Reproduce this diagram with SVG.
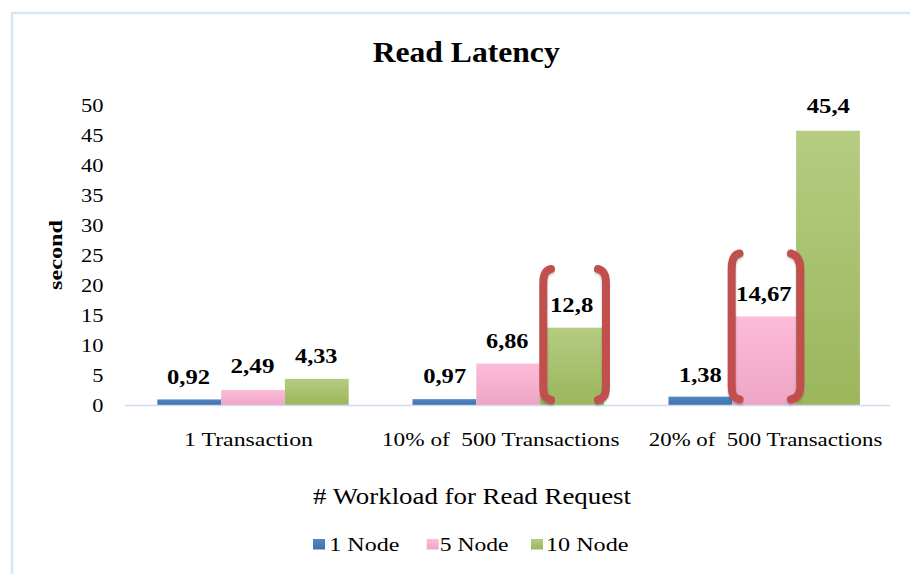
<svg xmlns="http://www.w3.org/2000/svg" width="910" height="574" viewBox="0 0 910 574" font-family="'Liberation Serif', 'Times New Roman', 'DejaVu Serif', serif">
  <defs>
    <linearGradient id="gBlue" x1="0" y1="0" x2="0" y2="1">
      <stop offset="0" stop-color="#5186c4"/>
      <stop offset="1" stop-color="#3f70ad"/>
    </linearGradient>
    <linearGradient id="gPink" x1="0" y1="0" x2="0" y2="1">
      <stop offset="0" stop-color="#fdbcd9"/>
      <stop offset="1" stop-color="#eea5c5"/>
    </linearGradient>
    <linearGradient id="gGreen" x1="0" y1="0" x2="0" y2="1">
      <stop offset="0" stop-color="#b5cc82"/>
      <stop offset="1" stop-color="#9bb65b"/>
    </linearGradient>
    <filter id="soft" x="-50%" y="-10%" width="200%" height="120%">
      <feDropShadow dx="0" dy="1.5" stdDeviation="1.2" flood-color="#000" flood-opacity="0.25"/>
    </filter>
  </defs>
  <style>
    text { font-family: 'Liberation Serif', 'Times New Roman', 'DejaVu Serif', serif; fill: #000; }
    .title { font-size: 30px; font-weight: bold; }
    .tick { font-size: 18px; }
    .val { font-size: 20px; font-weight: bold; }
    .cat { font-size: 19.5px; }
    .axt { font-size: 24px; }
    .leg { font-size: 18px; }
    .ylab { font-size: 19px; font-weight: bold; }
    .frame { fill: none; stroke: #d8e5f5; stroke-width: 2.5; }
    .axis { stroke: #cfdcee; stroke-width: 1.6; }
    .bracket { fill: none; stroke: #c0504d; stroke-width: 8; stroke-linecap: round; filter: url(#soft); }
  </style>

  <rect width="910" height="574" fill="#ffffff"/>

  <!-- chart frame (top and left edges) -->
  <path class="frame" d="M12,574 L12,13 L910,13"/>

  <!-- title -->
  <text class="title" x="372.7" y="61.7" textLength="187" lengthAdjust="spacingAndGlyphs">Read Latency</text>

  <!-- value axis -->
  <g id="y-axis">
    <text class="tick" x="81" y="112" textLength="22.5" lengthAdjust="spacingAndGlyphs">50</text>
    <text class="tick" x="81" y="142" textLength="22.5" lengthAdjust="spacingAndGlyphs">45</text>
    <text class="tick" x="81" y="172" textLength="22.5" lengthAdjust="spacingAndGlyphs">40</text>
    <text class="tick" x="81" y="202" textLength="22.5" lengthAdjust="spacingAndGlyphs">35</text>
    <text class="tick" x="81" y="232" textLength="22.5" lengthAdjust="spacingAndGlyphs">30</text>
    <text class="tick" x="81" y="262" textLength="22.5" lengthAdjust="spacingAndGlyphs">25</text>
    <text class="tick" x="81" y="292" textLength="22.5" lengthAdjust="spacingAndGlyphs">20</text>
    <text class="tick" x="81" y="322" textLength="22.5" lengthAdjust="spacingAndGlyphs">15</text>
    <text class="tick" x="81" y="352" textLength="22.5" lengthAdjust="spacingAndGlyphs">10</text>
    <text class="tick" x="92.3" y="382" textLength="11.2" lengthAdjust="spacingAndGlyphs">5</text>
    <text class="tick" x="92.3" y="412" textLength="11.2" lengthAdjust="spacingAndGlyphs">0</text>
    <text class="ylab" transform="translate(61.5,255) rotate(-90)" x="-35" y="0" textLength="70" lengthAdjust="spacingAndGlyphs">second</text>
  </g>

  <!-- bars: 6.04 px per second, baseline at y=405 -->
  <g id="bars">
    <g id="cat-1">
      <rect x="157.3" y="399.44" width="63.8" height="5.56" fill="url(#gBlue)"/>
      <rect x="221.1" y="389.96" width="63.8" height="15.04" fill="url(#gPink)"/>
      <rect x="284.9" y="378.85" width="63.8" height="26.15" fill="url(#gGreen)"/>
    </g>
    <g id="cat-2">
      <rect x="412.5" y="399.14" width="63.8" height="5.86" fill="url(#gBlue)"/>
      <rect x="476.3" y="363.57" width="63.8" height="41.43" fill="url(#gPink)"/>
      <rect x="540.1" y="327.69" width="63.8" height="77.31" fill="url(#gGreen)"/>
    </g>
    <g id="cat-3">
      <rect x="668.5" y="396.66" width="63.8" height="8.34" fill="url(#gBlue)"/>
      <rect x="732.3" y="316.39" width="63.8" height="88.61" fill="url(#gPink)"/>
      <rect x="796.1" y="130.78" width="63.8" height="274.22" fill="url(#gGreen)"/>
    </g>
  </g>

  <!-- category axis line -->
  <line class="axis" x1="125" y1="405.5" x2="890" y2="405.5"/>

  <!-- data labels -->
  <g id="values">
    <text class="val" x="167" y="384" textLength="43" lengthAdjust="spacingAndGlyphs">0,92</text>
    <text class="val" x="230.5" y="373" textLength="44" lengthAdjust="spacingAndGlyphs">2,49</text>
    <text class="val" x="295" y="363.3" textLength="42.5" lengthAdjust="spacingAndGlyphs">4,33</text>
    <text class="val" x="423.2" y="383" textLength="43" lengthAdjust="spacingAndGlyphs">0,97</text>
    <text class="val" x="486" y="347.7" textLength="42.5" lengthAdjust="spacingAndGlyphs">6,86</text>
    <text class="val" x="550" y="311.7" textLength="43.3" lengthAdjust="spacingAndGlyphs">12,8</text>
    <text class="val" x="679" y="381.7" textLength="42.8" lengthAdjust="spacingAndGlyphs">1,38</text>
    <text class="val" x="736" y="300.7" textLength="55.7" lengthAdjust="spacingAndGlyphs">14,67</text>
    <text class="val" x="806.7" y="113.3" textLength="43.3" lengthAdjust="spacingAndGlyphs">45,4</text>
  </g>

  <!-- highlight brackets -->
  <g id="brackets">
    <path class="bracket" d="M551,269 C545,270.5 543.3,275 543.3,284 L543.3,386 C543.3,395 545,398.5 551,400"/>
    <path class="bracket" d="M598,269 C604,270.5 606,275 606,284 L606,386 C606,395 604,398.5 598,400"/>
    <path class="bracket" d="M739.5,253.5 C733.5,255 731.7,260 731.7,270 L731.7,385 C731.7,395 733.5,398 739.5,399.5"/>
    <path class="bracket" d="M791,253.5 C797,255 800.3,260 800.3,270 L800.3,385 C800.3,395 797,398 791,399.5"/>
  </g>

  <!-- category labels -->
  <g id="x-axis">
    <text class="cat" x="184" y="446" textLength="129" lengthAdjust="spacingAndGlyphs">1 Transaction</text>
    <text class="cat" x="382" y="446" xml:space="preserve" textLength="237.5" lengthAdjust="spacingAndGlyphs">10% of  500 Transactions</text>
    <text class="cat" x="648.8" y="446" xml:space="preserve" textLength="233.5" lengthAdjust="spacingAndGlyphs">20% of  500 Transactions</text>
    <text class="axt" x="313" y="504" textLength="318" lengthAdjust="spacingAndGlyphs"># Workload for Read Request</text>
  </g>

  <!-- legend -->
  <g id="legend">
    <rect x="313" y="539" width="12" height="10.5" fill="url(#gBlue)"/>
    <text class="leg" x="329.3" y="550.7" textLength="70" lengthAdjust="spacingAndGlyphs">1 Node</text>
    <rect x="426.7" y="539" width="12" height="10.5" fill="url(#gPink)"/>
    <text class="leg" x="439.8" y="550.7" textLength="68.8" lengthAdjust="spacingAndGlyphs">5 Node</text>
    <rect x="531" y="539" width="12" height="10.5" fill="url(#gGreen)"/>
    <text class="leg" x="546" y="550.7" textLength="82.5" lengthAdjust="spacingAndGlyphs">10 Node</text>
  </g>
</svg>
